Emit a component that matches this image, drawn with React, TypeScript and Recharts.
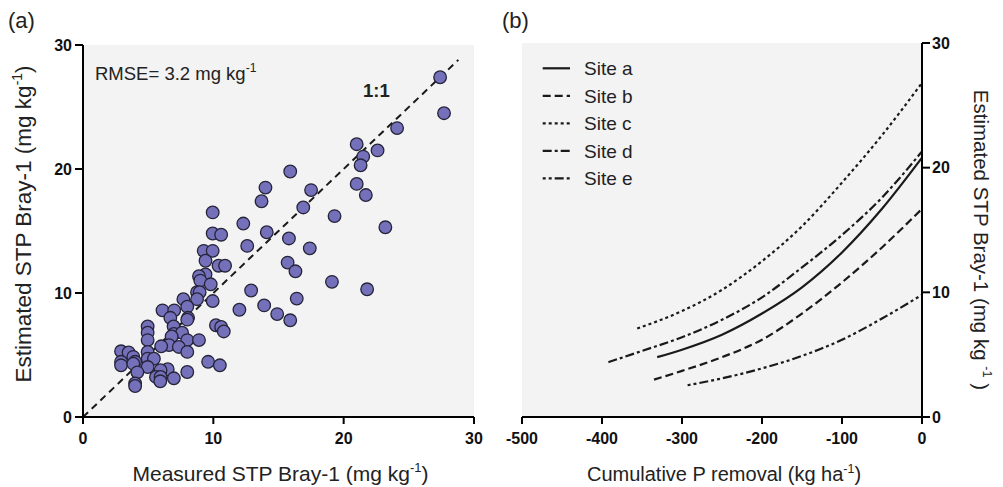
import React from 'react';
import {
  ScatterChart,
  Scatter,
  LineChart,
  Line,
  XAxis,
  YAxis,
  CartesianGrid,
  ReferenceLine,
  Legend,
} from 'recharts';

const FONT = '"Liberation Sans", Arial, Helvetica, sans-serif';

// ---- Panel (a) data ----
const measuredSTP = [
  27.4, 27.7, 24.1, 21.0, 22.6, 21.5, 21.3, 21.0, 21.7, 15.9,
  17.5, 14.0, 13.7, 16.9, 19.3, 23.2, 9.95, 12.3, 14.1, 9.95,
  10.6, 15.8, 12.6, 17.4, 9.26, 9.95, 9.4, 15.7, 16.3, 10.4,
  10.9, 9.4, 8.9, 9.0, 9.8, 19.1, 21.8, 12.9, 8.75, 8.95,
  8.75, 9.95, 7.7, 16.4, 13.9, 12.0, 14.9, 15.9, 8.0, 6.1,
  7.0, 6.7, 8.06, 8.0, 6.95, 10.2, 10.6, 10.8, 4.96, 4.96,
  4.96, 6.97, 7.6, 6.8, 8.0, 8.9, 6.6, 7.35, 6.0, 8.0,
  4.96, 2.92, 3.5, 3.86, 4.96, 5.44, 2.92, 2.92, 4.0, 3.86,
  4.96, 4.17, 9.6, 10.5, 8.0, 6.5, 5.95, 5.6, 5.95, 6.97,
  5.93, 4.0, 4.0,
];
const estimatedSTP = [
  27.4, 24.5, 23.3, 22.0, 21.5, 21.0, 20.3, 18.8, 17.9, 19.8,
  18.3, 18.5, 17.4, 16.9, 16.2, 15.3, 16.5, 15.6, 14.9, 14.8,
  14.7, 14.4, 13.8, 13.6, 13.4, 13.4, 12.6, 12.45, 11.75, 12.2,
  12.2, 11.5, 11.35, 11.0, 10.7, 10.9, 10.3, 10.2, 10.06, 10.06,
  9.5, 9.35, 9.5, 9.55, 9.0, 8.65, 8.3, 7.8, 8.9, 8.6,
  8.6, 8.0, 8.0, 7.85, 7.3, 7.4, 7.26, 6.9, 7.3, 6.8,
  6.2, 6.7, 6.8, 6.5, 6.2, 6.2, 5.8, 5.65, 5.7, 5.25,
  5.25, 5.3, 5.2, 4.85, 4.7, 4.7, 4.45, 4.17, 4.45, 4.3,
  4.03, 3.6, 4.45, 4.17, 3.63, 3.85, 3.77, 3.23, 3.23, 3.12,
  2.88, 2.7, 2.5,
];
const oneToOneEnds = [0, 28.8];
const ticksA = [0, 10, 20, 30];

// ---- Panel (b) data ----
const removalTicks = [-500, -400, -300, -200, -100, 0];
const stpTicks = [0, 10, 20, 30];

const siteNames = ['Site a', 'Site b', 'Site c', 'Site d', 'Site e'];

const siteARemoval = [-331, -300, -250, -200, -150, -100, -50, 0];
const siteASTP = [4.8, 5.4, 6.6, 8.3, 10.4, 13.2, 16.7, 20.8];

const siteBRemoval = [-335, -300, -250, -200, -150, -100, -50, 0];
const siteBSTP = [3.0, 3.7, 4.8, 6.2, 8.3, 10.8, 13.6, 16.7];

const siteCRemoval = [-356, -300, -250, -200, -150, -100, -50, 0];
const siteCSTP = [7.1, 8.5, 10.2, 12.5, 15.3, 18.8, 22.6, 26.8];

const siteDRemoval = [-392, -350, -300, -250, -200, -150, -100, -50, 0];
const siteDSTP = [4.4, 5.3, 6.4, 7.8, 9.6, 12.0, 14.6, 17.6, 21.3];

const siteERemoval = [-293, -250, -200, -150, -100, -50, 0];
const siteESTP = [2.55, 3.1, 3.9, 4.9, 6.2, 7.9, 9.8];

const toSeries = (xs: number[], ys: number[]) => xs.map((x, i) => ({ x, y: ys[i] }));

const scatterData = measuredSTP.map((x, i) => ({ x, y: estimatedSTP[i] }));

const siteSeries = [
  toSeries(siteARemoval, siteASTP),
  toSeries(siteBRemoval, siteBSTP),
  toSeries(siteCRemoval, siteCSTP),
  toSeries(siteDRemoval, siteDSTP),
  toSeries(siteERemoval, siteESTP),
];

const dashStyles: Record<string, string | undefined> = {
  'Site a': undefined,
  'Site b': '8 4',
  'Site c': '3 3',
  'Site d': '9 3 3 3',
  'Site e': '3 3 3 3 9 3',
};

const INK = '#1a1a1a';
const BG = '#f2f3f2';

const axisStroke = { stroke: '#000', strokeWidth: 2 };
const tickStyle = { fill: '#111', fontSize: 16, fontWeight: 'bold' as const, fontFamily: FONT };

function SupLabel(props: {
  x: number;
  y: number;
  fontSize: number;
  main: string;
  sup: string;
  after: string;
  rotate?: number;
}) {
  const { x, y, fontSize, main, sup, after, rotate } = props;
  const shift = fontSize * 0.42;
  return (
    <text
      x={x}
      y={y}
      transform={rotate ? `rotate(${rotate}, ${x}, ${y})` : undefined}
      textAnchor="middle"
      fontFamily={FONT}
      fontSize={fontSize}
      fill="#222"
    >
      {main}
      <tspan dy={-shift} fontSize={fontSize * 0.62}>
        {sup}
      </tspan>
      <tspan dy={shift}>{after}</tspan>
    </text>
  );
}

const renderDot = (p: any) => (
  <circle cx={p.cx} cy={p.cy} r={6.3} fill="#7470b9" stroke="#26243a" strokeWidth={1.3} />
);

function LegendContent() {
  return (
    <svg width={160} height={140} style={{ display: 'block' }}>
      {siteNames.map((name, i) => {
        const cy = 13.3 + i * 27.5;
        return (
          <g key={name}>
            <line
              x1={2.7}
              x2={30}
              y1={cy}
              y2={cy}
              stroke={INK}
              strokeWidth={2.2}
              strokeDasharray={dashStyles[name]}
            />
            <text x={44} y={cy + 7} fontFamily={FONT} fontSize={19} fill="#222">
              {name}
            </text>
          </g>
        );
      })}
    </svg>
  );
}

export default function App() {
  return (
    <div style={{ position: 'absolute', left: 0, top: 0, width: 1003, height: 487, background: '#fff' }}>
      {/* Panel (a) */}
      <div style={{ position: 'absolute', left: 0, top: 0 }}>
        <ScatterChart width={500} height={487} margin={{ top: 45, right: 26, bottom: 40, left: 23 }}>
          <CartesianGrid fill={BG} stroke="none" />
          <XAxis
            type="number"
            dataKey="x"
            domain={[0, 30]}
            ticks={ticksA}
            height={30}
            tickSize={7}
            tickMargin={9}
            axisLine={axisStroke}
            tickLine={axisStroke}
            tick={tickStyle}
            label={{
              content: (p: any) => {
                const vb = p.viewBox || { x: 83, y: 417, width: 391 };
                return (
                  <SupLabel
                    x={vb.x + vb.width / 2 + 2}
                    y={vb.y + 64}
                    fontSize={21}
                    main="Measured STP Bray-1  (mg kg"
                    sup="-1"
                    after=")"
                  />
                );
              },
            }}
          />
          <YAxis
            type="number"
            dataKey="y"
            domain={[0, 30]}
            ticks={ticksA}
            width={60}
            tickSize={8}
            tickMargin={3}
            axisLine={axisStroke}
            tickLine={axisStroke}
            tick={tickStyle}
            label={{
              content: (p: any) => {
                const vb = p.viewBox || { x: 23, y: 45, width: 60, height: 372 };
                return (
                  <SupLabel
                    x={31}
                    y={vb.y + vb.height / 2 - 7}
                    fontSize={22.5}
                    rotate={-90}
                    main="Estimated STP Bray-1 (mg kg"
                    sup="-1"
                    after=")"
                  />
                );
              },
            }}
          />
          <ReferenceLine
            segment={[
              { x: oneToOneEnds[0], y: oneToOneEnds[0] },
              { x: oneToOneEnds[1], y: oneToOneEnds[1] },
            ]}
            stroke={INK}
            strokeWidth={2}
            strokeDasharray="7 5"
          />
          <Scatter data={scatterData} shape={renderDot} isAnimationActive={false} />
        </ScatterChart>
      </div>

      {/* Panel (b) */}
      <div style={{ position: 'absolute', left: 500, top: 0 }}>
        <LineChart width={503} height={487} margin={{ top: 43, right: 21, bottom: 40, left: 22 }}>
          <CartesianGrid fill={BG} stroke="none" yAxisId="right" />
          <XAxis
            type="number"
            dataKey="x"
            domain={[-500, 0]}
            ticks={removalTicks}
            height={30}
            tickSize={7}
            tickMargin={9}
            axisLine={axisStroke}
            tickLine={axisStroke}
            tick={tickStyle}
            allowDuplicatedCategory={false}
            label={{
              content: (p: any) => {
                const vb = p.viewBox || { x: 22, y: 417, width: 400 };
                return (
                  <SupLabel
                    x={vb.x + vb.width / 2 + 2}
                    y={vb.y + 64}
                    fontSize={20}
                    main="Cumulative P removal (kg ha"
                    sup="-1"
                    after=")"
                  />
                );
              },
            }}
          />
          <YAxis
            yAxisId="left"
            orientation="left"
            type="number"
            domain={[0, 30]}
            ticks={[30]}
            width={0}
            tickSize={6}
            axisLine={axisStroke}
            tickLine={axisStroke}
            tickFormatter={() => ''}
          />
          <YAxis
            yAxisId="right"
            orientation="right"
            type="number"
            domain={[0, 30]}
            ticks={stpTicks}
            width={60}
            tickSize={8}
            tickMargin={2}
            axisLine={axisStroke}
            tickLine={axisStroke}
            tick={{ ...tickStyle, textAnchor: 'start' }}
            label={{
              content: (p: any) => {
                const vb = p.viewBox || { x: 422, y: 43, width: 60, height: 374 };
                return (
                  <SupLabel
                    x={474}
                    y={vb.y + vb.height / 2 + 10}
                    fontSize={20.5}
                    rotate={90}
                    main="Estimated STP Bray-1 (mg kg "
                    sup="-1"
                    after=" )"
                  />
                );
              },
            }}
          />
          <Legend
            layout="vertical"
            align="center"
            verticalAlign="middle"
            wrapperStyle={{ left: 40, top: 55, width: 160, height: 140 }}
            content={() => <LegendContent />}
          />
          {siteNames.map((name, i) => (
            <Line
              key={name}
              name={name}
              yAxisId="right"
              data={siteSeries[i]}
              dataKey="y"
              type="monotone"
              stroke={INK}
              strokeWidth={2.2}
              strokeDasharray={dashStyles[name]}
              dot={false}
              activeDot={false}
              isAnimationActive={false}
            />
          ))}
        </LineChart>
      </div>

      {/* panel letters and annotations */}
      <svg
        width={1003}
        height={487}
        style={{ position: 'absolute', left: 0, top: 0, pointerEvents: 'none' }}
      >
        <text x={8} y={28} fontFamily={FONT} fontSize={22} fill="#222">
          (a)
        </text>
        <text x={502} y={28} fontFamily={FONT} fontSize={22} fill="#222">
          (b)
        </text>
        <text x={95} y={80} fontFamily={FONT} fontSize={18.5} fill="#222">
          RMSE= 3.2 mg kg
          <tspan dy={-8} fontSize={12}>
            -1
          </tspan>
        </text>
        <text x={363} y={96.7} fontFamily={FONT} fontSize={18.5} fontWeight="bold" fill="#222">
          1:1
        </text>
      </svg>
    </div>
  );
}
